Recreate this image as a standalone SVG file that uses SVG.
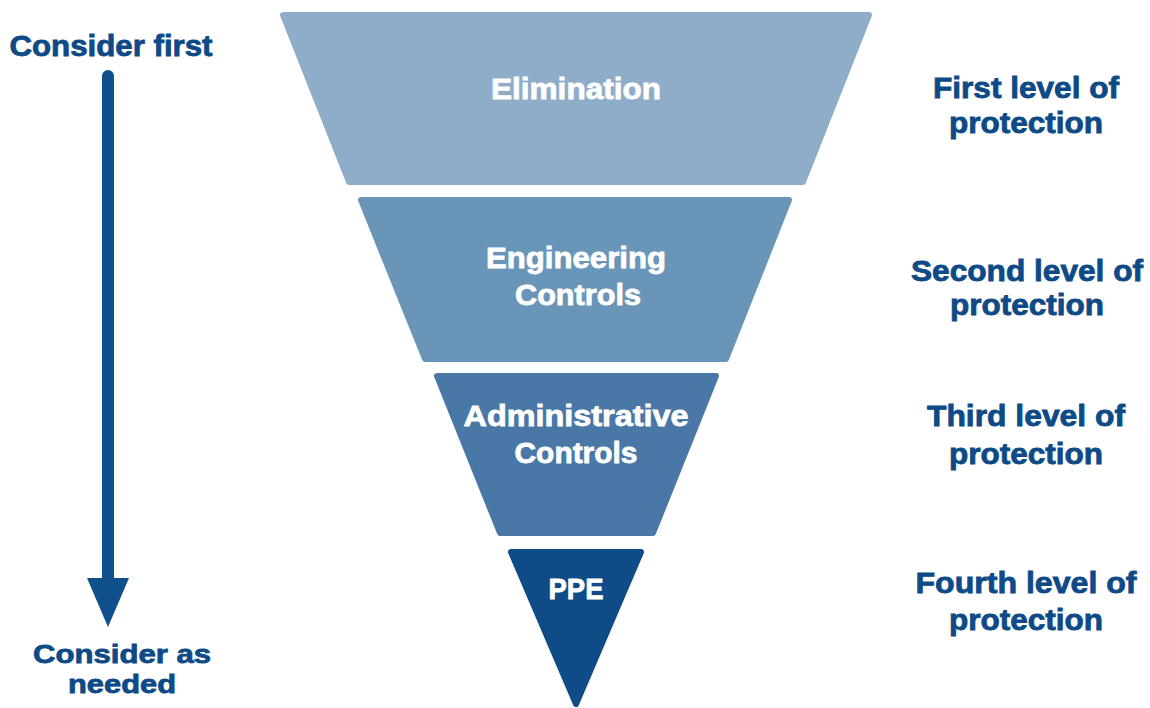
<svg xmlns="http://www.w3.org/2000/svg" width="1150" height="708" viewBox="0 0 1150 708">
  <style>
    .band { stroke-width: 6; stroke-linejoin: round; }
    .lvl1 { fill: #8fadc8; stroke: #8fadc8; }
    .lvl2 { fill: #6995b9; stroke: #6995b9; }
    .lvl3 { fill: #4978a6; stroke: #4978a6; }
    .lvl4 { fill: #0f4c87; stroke: #0f4c87; }
    .inner { font-family: "Liberation Sans", "DejaVu Sans", sans-serif; font-weight: bold; font-size: 30px; fill: #ffffff; stroke: #ffffff; stroke-width: 0.8; text-anchor: middle; }
    .side { font-family: "Liberation Sans", "DejaVu Sans", sans-serif; font-weight: bold; font-size: 29px; fill: #0d4a86; stroke: #0d4a86; stroke-width: 0.8; text-anchor: middle; }
    .tight { font-size: 26px; }
  </style>
  <rect width="1150" height="708" fill="#ffffff"/>

  <!-- hierarchy bands -->
  <g id="elimination">
    <polygon class="band lvl1" points="283,15 869,15 803,182 349,182"/>
    <text class="inner" x="576" y="99" textLength="170" lengthAdjust="spacingAndGlyphs">Elimination</text>
  </g>
  <g id="engineering-controls">
    <polygon class="band lvl2" points="361,200 789,200 726,359 425,359"/>
    <text class="inner" x="576" y="268" textLength="180" lengthAdjust="spacingAndGlyphs">Engineering</text>
    <text class="inner" x="578" y="305" textLength="126" lengthAdjust="spacingAndGlyphs">Controls</text>
  </g>
  <g id="administrative-controls">
    <polygon class="band lvl3" points="437,376 716,376 653,533 500,533"/>
    <text class="inner" x="576" y="426" textLength="225" lengthAdjust="spacingAndGlyphs">Administrative</text>
    <text class="inner" x="576" y="463" textLength="123" lengthAdjust="spacingAndGlyphs">Controls</text>
  </g>
  <g id="ppe">
    <polygon class="band lvl4" points="511,552 641,552 576,704"/>
    <text class="inner" x="576" y="599" textLength="55" lengthAdjust="spacingAndGlyphs">PPE</text>
  </g>

  <!-- level captions -->
  <g id="level-1">
    <text class="side" x="1026" y="98" textLength="186" lengthAdjust="spacingAndGlyphs">First level of</text>
    <text class="side" x="1026" y="133" textLength="154" lengthAdjust="spacingAndGlyphs">protection</text>
  </g>
  <g id="level-2">
    <text class="side" x="1027" y="281" textLength="232" lengthAdjust="spacingAndGlyphs">Second level of</text>
    <text class="side" x="1027" y="315" textLength="154" lengthAdjust="spacingAndGlyphs">protection</text>
  </g>
  <g id="level-3">
    <text class="side" x="1026" y="426" textLength="198" lengthAdjust="spacingAndGlyphs">Third level of</text>
    <text class="side" x="1026" y="464" textLength="154" lengthAdjust="spacingAndGlyphs">protection</text>
  </g>
  <g id="level-4">
    <text class="side" x="1026" y="593" textLength="221" lengthAdjust="spacingAndGlyphs">Fourth level of</text>
    <text class="side" x="1026" y="630" textLength="154" lengthAdjust="spacingAndGlyphs">protection</text>
  </g>

  <!-- priority axis -->
  <g id="consider-first">
    <text class="side" x="111" y="56" textLength="203" lengthAdjust="spacingAndGlyphs">Consider first</text>
  </g>
  <g id="consider-as-needed">
    <text class="side tight" x="122" y="663" textLength="178" lengthAdjust="spacingAndGlyphs">Consider as</text>
    <text class="side tight" x="122" y="693" textLength="108" lengthAdjust="spacingAndGlyphs">needed</text>
  </g>
  <g id="connectors">
    <line x1="108" y1="76" x2="108" y2="582" stroke="#0f4f8c" stroke-width="12" stroke-linecap="round"/>
    <polygon points="87,578 129,578 108,627" fill="#0f4f8c"/>
  </g>
</svg>
